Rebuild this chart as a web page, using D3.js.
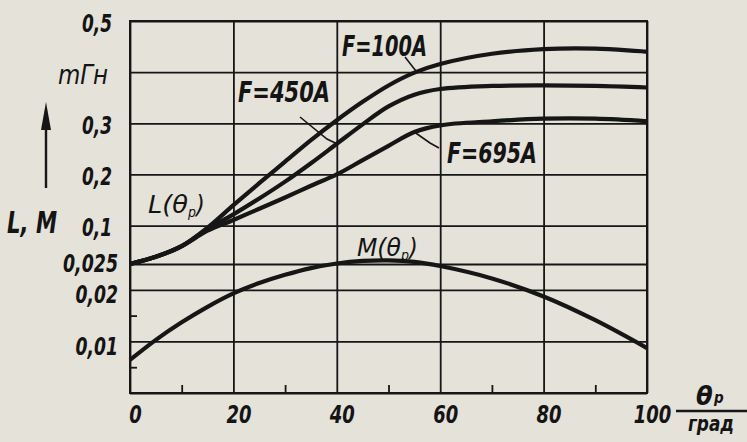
<!DOCTYPE html>
<html>
<head>
<meta charset="utf-8">
<script src="https://cdn.jsdelivr.net/npm/d3@7"></script>
<style>
  body { margin: 0; background: #e4e2d9; }
  svg { display: block; }
  .tick text, .lbl { font-family: "DejaVu Sans Condensed", "Liberation Sans Narrow", "DejaVu Sans", sans-serif;
         font-style: italic; font-weight: bold; fill: #141414; }
  .thin { font-weight: normal; }
</style>
</head>
<body>
<script>
// theta_p, degrees
var theta = [0, 5, 10, 15, 20, 25, 30, 35, 40, 45, 50, 55, 60, 70, 80, 90, 100];
// L(theta_p), mH, for three currents
var L100 = [0.025, 0.039, 0.06, 0.096, 0.14, 0.183, 0.225, 0.267, 0.306, 0.342, 0.374, 0.399, 0.416, 0.436, 0.445, 0.446, 0.44];
var L450 = [0.025, 0.039, 0.06, 0.093, 0.122, 0.153, 0.186, 0.222, 0.26, 0.298, 0.333, 0.356, 0.367, 0.373, 0.374, 0.373, 0.37];
var L695 = [0.025, 0.039, 0.06, 0.09, 0.111, 0.133, 0.155, 0.178, 0.2, 0.228, 0.256, 0.283, 0.296, 0.304, 0.309, 0.309, 0.304];
// M(theta_p), mH
var M = [0.0064, 0.0103, 0.0137, 0.0167, 0.0193, 0.0213, 0.0229, 0.0242, 0.0251, 0.0256, 0.0257, 0.0254, 0.0246, 0.0222, 0.0187, 0.0141, 0.0087];

var xTicks = [0, 20, 40, 60, 80, 100];
var xMinor = [10, 30, 50, 70, 90];
var yUpperTicks = [0.5, 0.4, 0.3, 0.2, 0.1];
var yUpperLabels = ["0,5", "", "0,3", "0,2", "0,1"];
var yLowerTicks = [0.025, 0.02, 0.01, 0];
var yLowerLabels = ["0,025", "0,02", "0,01", ""];
var yMinor = [0.005, 0.015];

var W = 747, H = 442;
var x0 = 130, x1 = 647, yTop = 21, yMid = 264, yBot = 393;

var svg = d3.select("body").append("svg").attr("width", W).attr("height", H);
svg.append("rect").attr("width", W).attr("height", H).attr("fill", "#e4e2d9");

var x = d3.scaleLinear().domain([0, 100]).range([x0, x1]);
// the axis is broken: L part above 0.025, M part below
var yL = d3.scaleLinear().domain([0.025, 0.5]).range([yMid, yTop]);
var yM = d3.scaleLinear().domain([0, 0.025]).range([yBot, yMid]);

var ink = "#161616";

// narrow, tall digits like the drafting lettering
var fitText = function(sel) {
  sel.each(function() {
    var t = d3.select(this), s = t.text();
    if (!s) return;
    var len = 0;
    for (var i = 0; i < s.length; i++) len += (s[i] == "," ? 5 : 12.5);
    t.attr("textLength", len).attr("lengthAdjust", "spacingAndGlyphs");
  });
};

var styleAxis = function(g) {
  g.select(".domain").remove();
  g.selectAll(".tick line").attr("stroke", ink).attr("stroke-width", 1.8);
  g.selectAll(".tick text").attr("font-size", 25).call(fitText);
};

// vertical grid + x labels
var gx = svg.append("g").attr("transform", "translate(0," + yBot + ")")
  .call(d3.axisBottom(x).tickValues(xTicks).tickSize(-(yBot - yTop)).tickPadding(12).tickFormat(d3.format("d")));
styleAxis(gx);
gx.selectAll(".tick text").attr("dx", 5);

svg.append("g").attr("transform", "translate(0," + yBot + ")")
  .call(d3.axisBottom(x).tickValues(xMinor).tickSize(-8).tickFormat(""))
  .call(styleAxis);

// horizontal grid, upper (L) part
var gyU = svg.append("g").attr("transform", "translate(" + x0 + ",0)")
  .call(d3.axisLeft(yL).tickValues(yUpperTicks).tickSize(-(x1 - x0)).tickPadding(18)
    .tickFormat(function(d, i) { return yUpperLabels[i]; }));
styleAxis(gyU);
gyU.selectAll(".tick text").attr("dy", "0.4em");

// horizontal grid, lower (M) part
var gyM = svg.append("g").attr("transform", "translate(" + x0 + ",0)")
  .call(d3.axisLeft(yM).tickValues(yLowerTicks).tickSize(-(x1 - x0)).tickPadding(12)
    .tickFormat(function(d, i) { return yLowerLabels[i]; }));
styleAxis(gyM);
gyM.selectAll(".tick text").attr("dy", function(d) { return d == 0.025 ? "0.28em" : "0.52em"; });

svg.append("g").attr("transform", "translate(" + x0 + ",0)")
  .call(d3.axisLeft(yM).tickValues(yMinor).tickSize(-7).tickFormat(""))
  .call(styleAxis);

// frame
svg.append("rect").attr("x", x0).attr("y", yTop).attr("width", x1 - x0).attr("height", yBot - yTop)
  .attr("fill", "none").attr("stroke", ink).attr("stroke-width", 2);

// curves
var lineL = d3.line().x(function(d, i) { return x(theta[i]); }).y(function(d) { return yL(d); })
  .curve(d3.curveCatmullRom);
var lineM = d3.line().x(function(d, i) { return x(theta[i]); }).y(function(d) { return yM(d); })
  .curve(d3.curveCatmullRom);

[L100, L450, L695].forEach(function(s) {
  svg.append("path").attr("d", lineL(s)).attr("fill", "none").attr("stroke", ink).attr("stroke-width", 4.2);
});
svg.append("path").attr("d", lineM(M)).attr("fill", "none").attr("stroke", ink).attr("stroke-width", 4.2);

// leader lines from the labels to the curves
var leader = d3.line();
svg.append("path").attr("d", leader([[405, 57], [x(55.5), yL(0.4)]]))
  .attr("fill", "none").attr("stroke", ink).attr("stroke-width", 1.6);
svg.append("path").attr("d", leader([[300, 117], [327, 139], [x(40), yL(0.26)]]))
  .attr("fill", "none").attr("stroke", ink).attr("stroke-width", 1.6);
svg.append("path").attr("d", leader([[x(55), yL(0.283)], [430, 143], [439, 148]]))
  .attr("fill", "none").attr("stroke", ink).attr("stroke-width", 1.6);

var label = function(t, lx, ly, size, len, cls) {
  var el = svg.append("text").attr("class", "lbl " + (cls || "")).attr("x", lx).attr("y", ly)
    .attr("font-size", size).text(t);
  if (len) el.attr("textLength", len).attr("lengthAdjust", "spacingAndGlyphs");
  return el;
};
label("mГн", 58, 84, 27, 50, "thin");
label("F=100A", 342, 56, 28, 85);
label("F=450A", 238, 102, 28, 92);
label("F=695A", 447, 163, 28, 90);
label("L(θ", 148, 213, 25, 40, "thin");
label("p", 188, 217, 14, null, "thin");
label(")", 196, 213, 25, null, "thin");
label("M(θ", 357, 256, 25, 44, "thin");
label("p", 401, 260, 14, null, "thin");
label(")", 409, 256, 25, null, "thin");
label("L, M", 7, 233, 30, 50);

// axis arrow
svg.append("line").attr("x1", 46).attr("x2", 46).attr("y1", 188).attr("y2", 118)
  .attr("stroke", ink).attr("stroke-width", 2.4);
svg.append("path").attr("d", "M46,102 L41,130 L51,130 Z").attr("fill", ink);

// x unit: theta_p over grad
label("θ", 696, 405, 27, null);
label("р", 714, 403, 15, null);
svg.append("line").attr("x1", 676).attr("x2", 747).attr("y1", 411).attr("y2", 411)
  .attr("stroke", ink).attr("stroke-width", 2.4);
label("град", 688, 431, 22, 46);
</script>
</body>
</html>
